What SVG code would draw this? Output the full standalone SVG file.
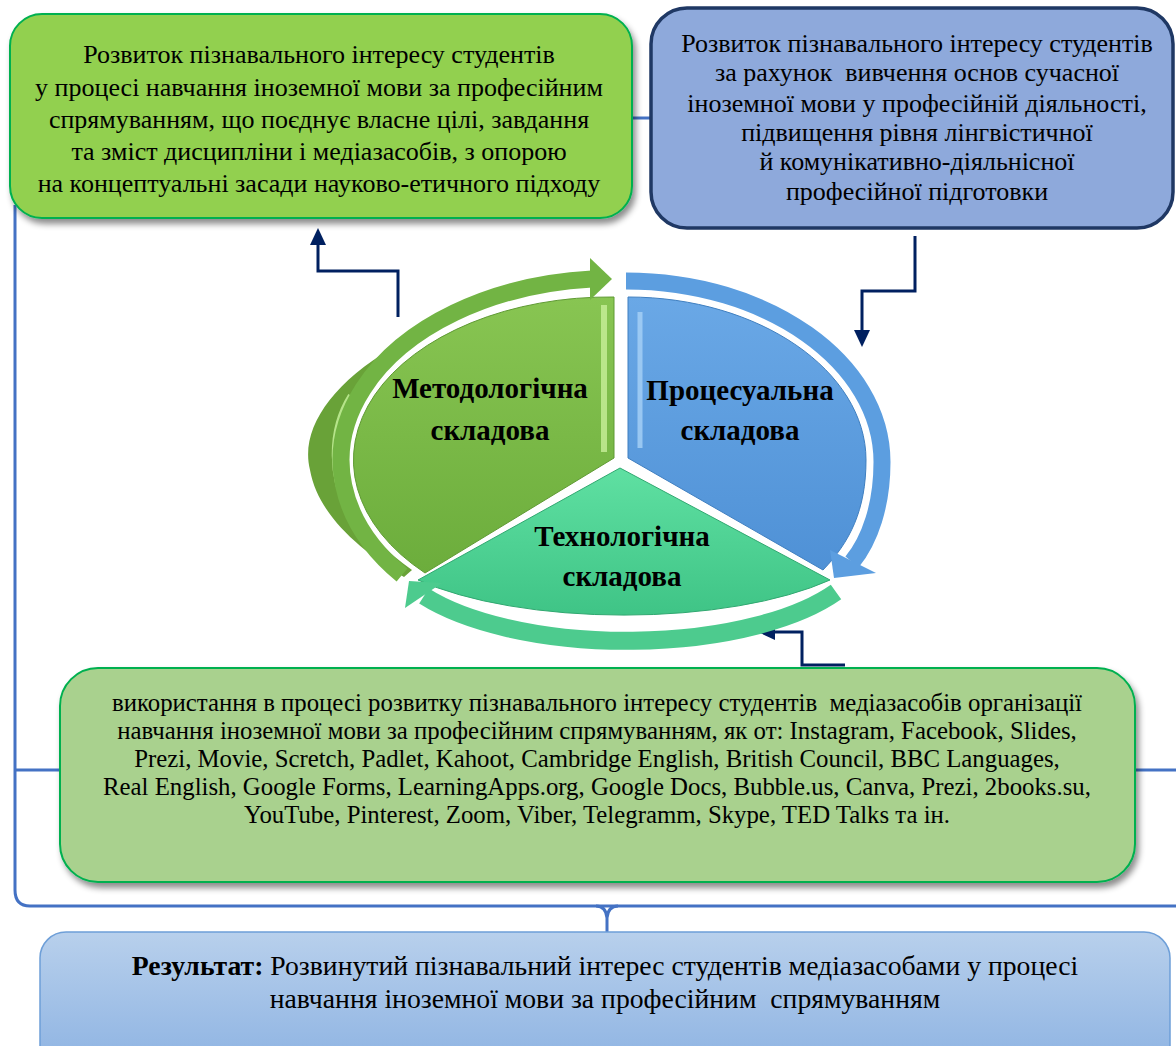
<svg xmlns="http://www.w3.org/2000/svg" width="1176" height="1046" viewBox="0 0 1176 1046">
<defs>
<style>
.t{font-family:"Liberation Serif","Times New Roman",serif;fill:#000;text-anchor:middle}
.tb{font-family:"Liberation Serif","Times New Roman",serif;fill:#000;text-anchor:middle;font-weight:bold;font-size:29px}
.conn{fill:none;stroke:#002060;stroke-width:3}
.brace{fill:none;stroke:#4472C4;stroke-width:3}
.head{fill:#002060}
</style>
<filter id="sh" x="-5%" y="-5%" width="112%" height="120%">
<feDropShadow dx="3" dy="5" stdDeviation="3" flood-color="#000" flood-opacity="0.45"/>
</filter>
<linearGradient id="gGreen" x1="0" y1="0" x2="0" y2="1">
<stop offset="0" stop-color="#88c552"/><stop offset="1" stop-color="#6cad3c"/>
</linearGradient>
<linearGradient id="gBlue" x1="0" y1="0" x2="0" y2="1">
<stop offset="0" stop-color="#6aa8e6"/><stop offset="1" stop-color="#4f91d6"/>
</linearGradient>
<linearGradient id="gTeal" x1="0" y1="0" x2="0" y2="1">
<stop offset="0" stop-color="#5fe0a2"/><stop offset="1" stop-color="#3fc486"/>
</linearGradient>
<linearGradient id="gRes" x1="0" y1="0" x2="0" y2="1">
<stop offset="0" stop-color="#b8d0ec"/><stop offset="1" stop-color="#8cb2e2"/>
</linearGradient>
</defs>

<g id="connectors">
<path class="brace" d="M15,205 V890 Q15,906 30,906 H1176"/>
<path class="brace" d="M596,906 Q606,906 607,918 V932 M618,906 Q608,906 607,918"/>
<path class="brace" d="M15,770 H60 M1135,770 H1176"/>
<path class="brace" d="M632,118 H651"/>
<path class="conn" d="M398,317 V271 H318 V243"/>
<polygon class="head" points="318,228 310,245 326,245"/>
<path class="conn" d="M915,236 V291 H862 V332"/>
<polygon class="head" points="862,347 854,330 870,330"/>
<path class="conn" d="M845,665 H802 V632 H774"/>
<polygon class="head" points="758,632 775,624 775,640"/>
</g>

<g id="box-methodology-goal">
<rect x="10" y="14" width="622" height="204" rx="32" fill="#92D050" stroke="#00B050" stroke-width="2" filter="url(#sh)"/>
<text class="t" font-size="26" xml:space="preserve"><tspan x="319" y="63">Розвиток пізнавального інтересу студентів</tspan><tspan x="319" y="96">у процесі навчання іноземної мови за професійним</tspan><tspan x="319" y="128">спрямуванням, що поєднує власне цілі, завдання</tspan><tspan x="319" y="160">та зміст дисципліни і медіазасобів, з опорою</tspan><tspan x="319" y="192">на концептуальні засади науково-етичного підходу</tspan></text>
</g>

<g id="box-process-goal">
<rect x="651" y="8" width="522" height="220" rx="36" fill="#8EA9DB" stroke="#1F3864" stroke-width="3.5"/>
<text class="t" font-size="26" xml:space="preserve"><tspan x="917" y="52">Розвиток пізнавального інтересу студентів</tspan><tspan x="917" y="81">за рахунок  вивчення основ сучасної</tspan><tspan x="917" y="112">іноземної мови у професійній діяльності,</tspan><tspan x="917" y="141">підвищення рівня лінгвістичної</tspan><tspan x="917" y="170">й комунікативно-діяльнісної</tspan><tspan x="917" y="200">професійної підготовки</tspan></text>
</g>

<g id="cycle">
<path d="M392,348 C330,385 300,430 310,470 C318,515 360,550 404,577 L412,570 C370,540 335,500 335,455 C335,415 360,378 392,348 Z" fill="#69a238"/>
<path d="M350,395 C328,430 328,480 352,520" fill="none" stroke="#b6e48a" stroke-width="4"/>
<path d="M614,458 L614,297 A256,163 0 0 0 425,573 Z" fill="url(#gGreen)" stroke="#5f9a33" stroke-width="1"/>
<path d="M604,305 V452" stroke="#c9f09a" stroke-width="6" opacity="0.8"/>
<path d="M628,458 L628,297 C759,297 866,371 866,460 C866,510 850,542 823,570 Z" fill="url(#gBlue)" stroke="#3f7fc0" stroke-width="1"/>
<path d="M640,312 V448" stroke="#a8d2f7" stroke-width="5" opacity="0.8"/>
<path d="M620,468 L830,580 A260,90 0 0 1 418,580 Z" fill="url(#gTeal)" stroke="#30a870" stroke-width="1"/>
<path d="M402,575 A273,182 0 0 1 592,279" fill="none" stroke="#72b444" stroke-width="17"/>
<polygon points="590,258 612,279 590,300" fill="#72b444"/>
<path d="M626,281 C767,281 882,362 882,462 C882,505 870,540 852,562" fill="none" stroke="#5c9ee0" stroke-width="17"/>
<polygon points="830,550 834,578 876,573" fill="#5c9ee0"/>
<path d="M836,592 A240,96 0 0 1 424,596" fill="none" stroke="#4dcb8e" stroke-width="18"/>
<polygon points="405,608 409,581 442,583" fill="#4dcb8e"/>
<text class="tb" x="490" y="398">Методологічна</text>
<text class="tb" x="490" y="440">складова</text>
<text class="tb" x="740" y="400">Процесуальна</text>
<text class="tb" x="740" y="440">складова</text>
<text class="tb" x="622" y="546">Технологічна</text>
<text class="tb" x="622" y="586">складова</text>
</g>

<g id="box-technology-goal">
<rect x="60" y="668" width="1075" height="214" rx="38" fill="#A9D18E" stroke="#00B050" stroke-width="2" filter="url(#sh)"/>
<text class="t" font-size="24.8" xml:space="preserve"><tspan x="597" y="711">використання в процесі розвитку пізнавального інтересу студентів  медіазасобів організації</tspan><tspan x="597" y="739">навчання іноземної мови за професійним спрямуванням, як от: Instagram, Facebook, Slides,</tspan><tspan x="597" y="767">Prezi, Movie, Scretch, Padlet, Kahoot, Cambridge English, British Council, BBC Languages,</tspan><tspan x="597" y="794.5">Real English, Google Forms, LearningApps.org, Google Docs, Bubble.us, Canva, Prezi, 2books.su,</tspan><tspan x="597" y="822.5">YouTube, Pinterest, Zoom, Viber, Telegramm, Skype, TED Talks та ін.</tspan></text>
</g>

<g id="box-result">
<rect x="40" y="932" width="1130" height="140" rx="26" fill="url(#gRes)" stroke="#6e9fd8" stroke-width="1.5"/>
<text class="t" font-size="27.7" xml:space="preserve"><tspan x="605" y="975"><tspan font-weight="bold">Результат:</tspan> Розвинутий пізнавальний інтерес студентів медіазасобами у процесі</tspan><tspan x="605" y="1008">навчання іноземної мови за професійним  спрямуванням</tspan></text>
</g>
</svg>
